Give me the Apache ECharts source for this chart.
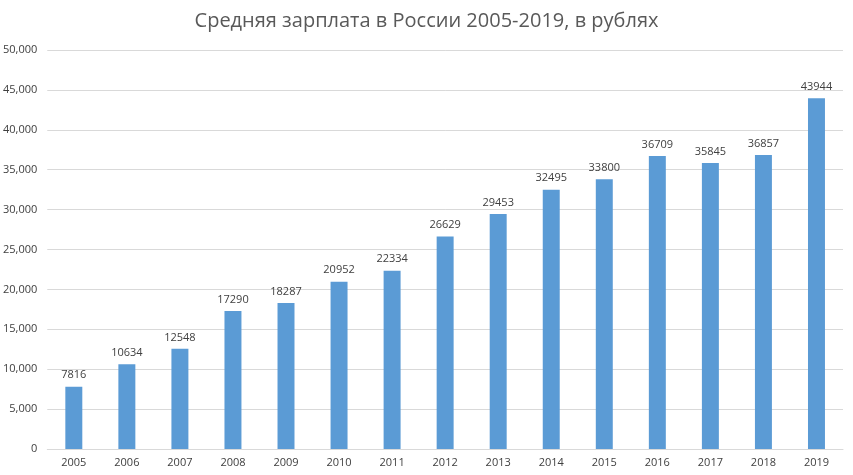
<!DOCTYPE html>
<html>
<head>
<meta charset="utf-8">
<script src="https://cdn.jsdelivr.net/npm/echarts@6/dist/echarts.min.js"></script>
<style>html,body{margin:0;padding:0;background:#fff}#chart{width:853px;height:475px}</style>
</head>
<body>
<div id="chart"></div>
<script>
const years = ['2005','2006','2007','2008','2009','2010','2011','2012','2013','2014','2015','2016','2017','2018','2019'];
const salary = [7816,10634,12548,17290,18287,20952,22334,26629,29453,32495,33800,36709,35845,36857,43944];

const chart = echarts.init(document.getElementById('chart'));
chart.setOption({
    animation: false,
    title: {
        text: 'Средняя зарплата в России 2005-2019, в рублях',
        left: 'center', top: 6,
        textStyle: {fontFamily: 'Open Sans', fontSize: 20, fontWeight: 'normal', color: '#595959'}
    },
    grid: {left: 45, right: 10, top: 50, bottom: 26},
    xAxis: {
        type: 'category', data: years,
        axisLine: {lineStyle: {color: '#d9d9d9'}},
        axisTick: {show: false},
        axisLabel: {color: '#404040', fontSize: 11, fontFamily: 'Open Sans', margin: 8}
    },
    yAxis: {
        type: 'value', min: 0, max: 50000, interval: 5000,
        axisLabel: {color: '#404040', fontSize: 11, fontFamily: 'Open Sans', margin: 10},
        splitLine: {lineStyle: {color: '#d9d9d9'}}
    },
    series: [{
        type: 'bar', data: salary, barWidth: '32%',
        itemStyle: {color: '#5b9bd5'},
        label: {show: true, position: 'top', color: '#404040', fontSize: 11, fontFamily: 'Open Sans', distance: 6}
    }]
});
</script>
</body>
</html>
